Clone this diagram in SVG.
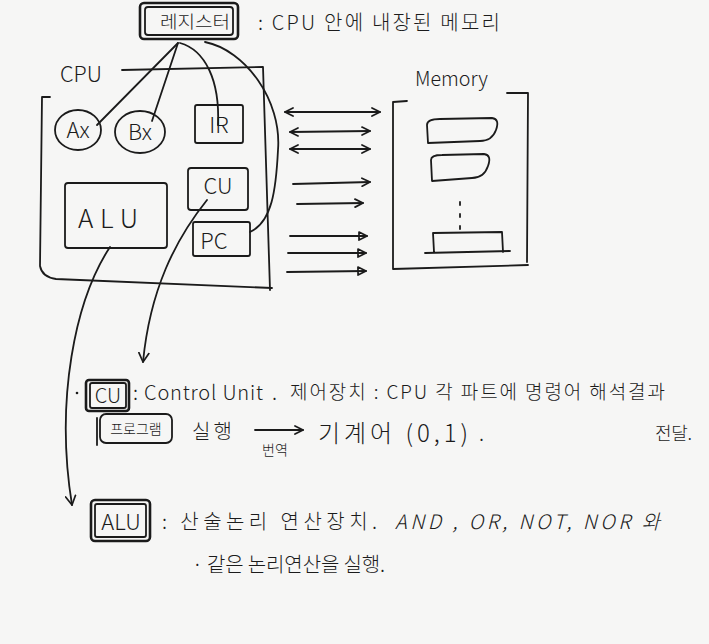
<svg xmlns="http://www.w3.org/2000/svg" width="709" height="644" viewBox="0 0 709 644">
<defs>
<marker id="v" viewBox="0 0 10 10" refX="9" refY="5" markerWidth="10" markerHeight="10" markerUnits="userSpaceOnUse" orient="auto-start-reverse"><path d="M1,1 L9,5 L1,9" fill="none" stroke="#1b1b1b" stroke-width="1.7" stroke-linecap="round" stroke-linejoin="round"/></marker>
<marker id="tri" viewBox="0 0 10 10" refX="9" refY="5" markerWidth="10" markerHeight="10" markerUnits="userSpaceOnUse" orient="auto"><path d="M1,1 L9,5 L1,9 Z" fill="none" stroke="#1b1b1b" stroke-width="1.7" stroke-linejoin="round"/></marker>
<marker id="dn" viewBox="0 0 12 12" refX="10" refY="6" markerWidth="12" markerHeight="12" markerUnits="userSpaceOnUse" orient="auto"><path d="M1,1 L10,6 L1,11" fill="none" stroke="#1b1b1b" stroke-width="1.7" stroke-linecap="round" stroke-linejoin="round"/></marker>
</defs>
<style>
.s{fill:none;stroke:#1b1b1b;stroke-width:1.8;stroke-linecap:round;stroke-linejoin:round}
.b{fill:none;stroke:#1b1b1b;stroke-width:2.6;stroke-linecap:round;stroke-linejoin:round}
.t{font-family:"Noto Sans CJK KR","Noto Sans",sans-serif;fill:#1b1b1b;font-weight:300}
</style>
<rect width="709" height="644" fill="#f6f6f5"/>

<g id="register">
<rect class="b" x="140" y="3" width="98" height="36" rx="4"/>
<rect class="s" x="145" y="7" width="88" height="28" rx="3"/>
<text class="t" x="160" y="28" font-size="17" textLength="70" lengthAdjust="spacingAndGlyphs">레지스터</text>
<text class="t" x="258" y="30" font-size="20" textLength="242" lengthAdjust="spacing">: CPU 안에 내장된 메모리</text>
</g>

<g id="cpu">
<text class="t" x="60" y="82" font-size="21" textLength="42" lengthAdjust="spacingAndGlyphs">CPU</text>
<path class="s" d="M122,70 L263,67 L270,290"/>
<path class="s" d="M50,97 L42,97 L40,266 Q42,277 56,279 L272,288"/>
</g>

<g id="ax">
<ellipse class="s" cx="78" cy="130" rx="23" ry="20"/>
<text class="t" x="78" y="138" font-size="22" text-anchor="middle">Ax</text>
</g>
<g id="bx">
<ellipse class="s" cx="140" cy="132" rx="25" ry="21"/>
<text class="t" x="140" y="140" font-size="22" text-anchor="middle">Bx</text>
</g>
<g id="ir">
<rect class="s" x="195" y="105" width="48" height="38" rx="2"/>
<text class="t" x="219" y="133" font-size="22" text-anchor="middle">IR</text>
</g>
<g id="cu">
<rect class="s" x="188" y="168" width="60" height="42" rx="3"/>
<text class="t" x="218" y="194" font-size="22" text-anchor="middle">CU</text>
</g>
<g id="pc">
<rect class="s" x="193" y="222" width="57" height="34" rx="2"/>
<text class="t" x="214" y="249" font-size="22" text-anchor="middle">PC</text>
</g>
<g id="alu">
<rect class="s" x="65" y="183" width="102" height="65" rx="3"/>
<text class="t" x="78" y="228" font-size="26" textLength="60" lengthAdjust="spacing">ALU</text>
</g>

<g id="memory">
<text class="t" x="415" y="86" font-size="20" textLength="73" lengthAdjust="spacingAndGlyphs">Memory</text>
<path class="s" d="M407,101 L393,102 L393,269 L528,265"/>
<path class="s" d="M507,93 L528,93 L527,262"/>
<path class="s" d="M427,125 Q427,119 440,119 L492,118 Q500,119 496,130 Q492,141 480,141 L428,143 Z"/>
<path class="s" d="M431,160 Q431,155 442,155 L484,154 Q492,155 488,166 Q484,178 472,178 L432,181 Z"/>
<path class="s" d="M460,202 L460,205 M460,214 L460,217 M460,226 L460,229"/>
<path class="s" d="M434,252 L433,233 L502,232 L503,252 M425,253 L510,251"/>
</g>

<g id="connectors">
<path class="s" d="M178,43 L97,125"/>
<path class="s" d="M178,43 L152,121"/>
<path class="s" d="M180,43 C205,50 220,80 218,125"/>
<path class="s" d="M205,42 C245,50 282,100 278,150 C276,190 272,222 250,232"/>
<path class="s" d="M285,112 L380,112" marker-start="url(#v)" marker-end="url(#v)"/>
<path class="s" d="M290,132 L370,131" marker-start="url(#v)" marker-end="url(#v)"/>
<path class="s" d="M290,149 L370,149" marker-start="url(#v)" marker-end="url(#v)"/>
<path class="s" d="M293,184 L370,182" marker-end="url(#v)"/>
<path class="s" d="M297,204 L363,203" marker-end="url(#v)"/>
<path class="s" d="M290,236 L367,236" marker-end="url(#tri)"/>
<path class="s" d="M288,253 L366,253" marker-end="url(#tri)"/>
<path class="s" d="M287,272 L366,271" marker-end="url(#tri)"/>
<path class="s" d="M207,200 C175,240 150,290 143,362" marker-end="url(#dn)"/>
<path class="s" d="M110,247 C75,300 55,400 72,505" marker-end="url(#dn)"/>
<path class="s" d="M255,430 L303,430" marker-end="url(#v)"/>
</g>

<g id="cu-note">
<circle cx="77" cy="393" r="1.3" fill="#1b1b1b"/>
<rect class="b" x="86" y="380" width="43" height="31" rx="3"/>
<rect class="s" x="90" y="383" width="36" height="25" rx="2"/>
<text class="t" x="108" y="403" font-size="20" text-anchor="middle">CU</text>
<text class="t" x="133" y="400" font-size="20" textLength="130" lengthAdjust="spacing">: Control Unit</text>
<text class="t" x="272" y="400" font-size="20">.</text>
<text class="t" x="290" y="399" font-size="19" textLength="375" lengthAdjust="spacing">제어장치 : CPU 각 파트에 명령어 해석결과</text>
<text class="t" x="655" y="440" font-size="18" textLength="37" lengthAdjust="spacing">전달.</text>
<path class="s" d="M97,418 L97,445"/>
<rect class="s" x="100" y="414" width="72" height="29" rx="6"/>
<text class="t" x="136" y="434" font-size="14" text-anchor="middle">프로그램</text>
<text class="t" x="192" y="439" font-size="20" textLength="40" lengthAdjust="spacing">실행</text>
<text class="t" x="262" y="455" font-size="14">번역</text>
<text class="t" x="318" y="442" font-size="24" textLength="150" lengthAdjust="spacing">기계어 (0,1)</text>
<text class="t" x="479" y="441" font-size="20">.</text>
</g>

<g id="alu-note">
<rect class="b" x="91" y="500" width="59" height="41" rx="4"/>
<rect class="s" x="95" y="504" width="51" height="33" rx="2"/>
<text class="t" x="121" y="530" font-size="22" text-anchor="middle">ALU</text>
<text class="t" x="162" y="529" font-size="20" textLength="215" lengthAdjust="spacing">: 산술논리 연산장치.</text>
<text class="t" x="395" y="529" font-size="20" textLength="265" lengthAdjust="spacing" font-style="italic">AND , OR, NOT, NOR 와</text>
<text class="t" x="192" y="572" font-size="20" textLength="193" lengthAdjust="spacing">· 같은 논리연산을 실행.</text>
</g>
</svg>
